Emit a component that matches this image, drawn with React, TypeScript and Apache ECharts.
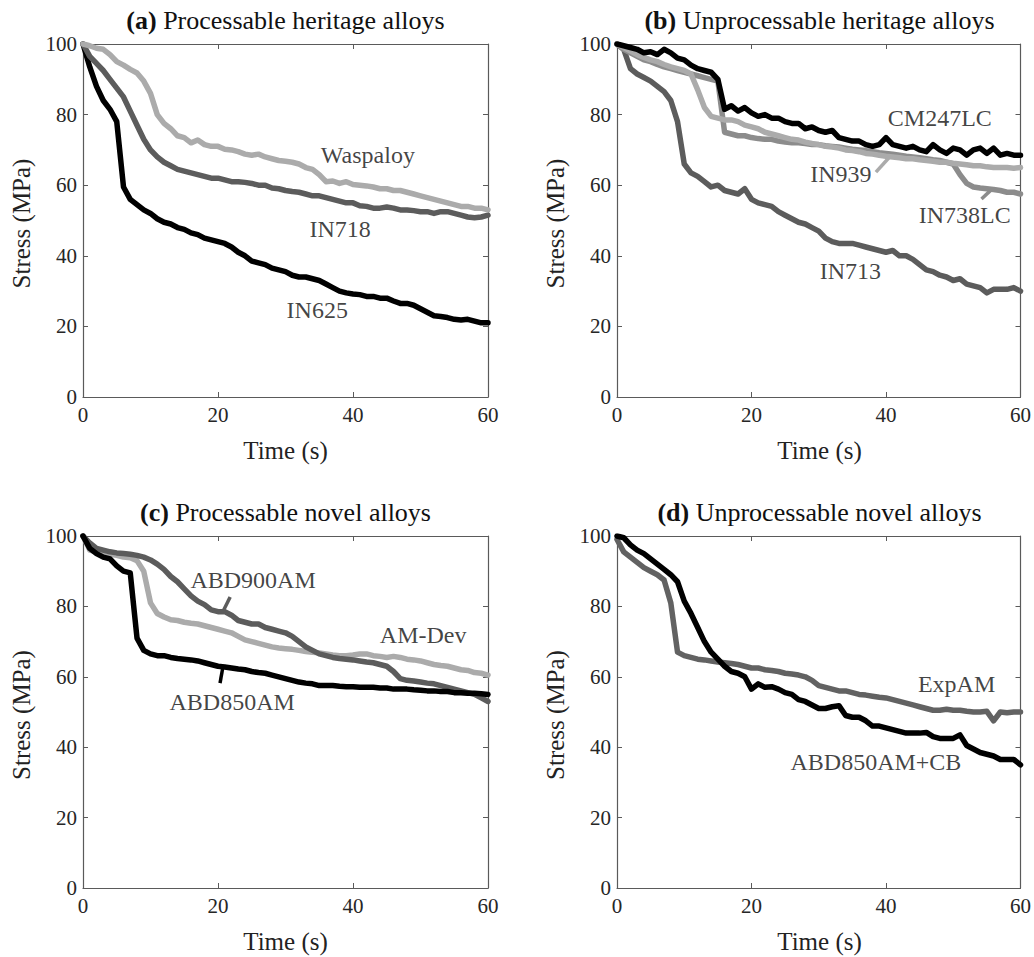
import React, { useEffect, useRef } from "react";
import * as echarts from "echarts";

// ---- sample times (s) ----
const TIME = [0,1,2,3,4,5,6,7,8,9,10,11,12,13,14,15,16,17,18,19,20,21,22,23,24,25,26,27,28,29,30,31,32,33,34,35,36,37,38,39,40,41,42,43,44,45,46,47,48,49,50,51,52,53,54,55,56,57,58,59,60];
const X_TICKS = [0, 20, 40, 60];
const Y_TICKS = [0, 20, 40, 60, 80, 100];

// ---- (a) Processable heritage alloys ----
const IN625 = [100,93.5,88,84,81.5,78,59.5,56,54.5,53,52,50.5,49.5,49,48,47.5,46.5,46,45,44.5,44,43.5,42.5,41,40,38.5,38,37.5,36.5,36,35.5,34.5,34,34,33.5,33,32,31,30,29.5,29.2,29,28.5,28.5,28,28,27.2,26.5,26.5,26,25,24,23,22.8,22.5,22,21.8,22,21.5,21,21];
const IN718 = [100,96.5,94.5,92.5,90,87.5,85,81,77,73,70,68,66.5,65.5,64.5,64,63.5,63,62.5,62,62,61.5,61,61,60.8,60.5,60,60,59.2,59,58.5,58.2,58,57.5,57,57,56.5,56,55.5,55,55,54.2,54,53.5,53.5,53.8,53.5,53,53,52.8,52.5,52.5,52,52.5,52.5,52,51.5,51,50.8,51,51.5];
const WASPALOY = [100,99.5,98.8,98.5,97,95,94,92.8,91.8,89.5,86,80,77.5,76,74,73.5,72,72.8,71.5,71,71,70.2,70,69.5,68.8,68.5,68.8,68,67.5,67,66.8,66.5,66,65,64.5,63,61,61.2,60.5,61,60.2,60,59.8,59.5,59,59,58.5,58.5,58,57.5,57,56.5,56,55.5,55,54.5,54,54,53.5,53.5,53];

// ---- (b) Unprocessable heritage alloys ----
const IN713 = [100,98.5,93,91.5,90.5,89.5,88,86.5,84,78,66,63.5,62.5,61,59.5,60,58.5,58,57.5,59,56,55,54.5,54,52.5,51.5,50.5,49.5,49,48,47,45,44,43.5,43.5,43.5,43,42.5,42,41.5,41,41.5,40,40,39,37.5,36,35.5,34.5,34,33,33.5,32,31.5,31,29.5,30.5,30.5,30.5,31,30];
const IN738LC = [100,98.5,97.5,96.5,95.5,95,94.2,93.5,93,92.5,92,91.5,91,90.5,90,89.5,75,74.5,74,74,73.5,73.2,73,73,72.5,72.2,72,72,71.8,71.5,71.5,71.2,71,70.8,70.5,70.2,70,69.8,69.5,69.2,69,68.8,68.5,68.2,68,67.8,67.5,67.2,67,66.5,66,63,60.5,59.5,59.2,59,58.8,58.5,58,58,57.5];
const IN939 = [100,99,98,97,96.2,95.5,95,94.2,93.5,93,92.5,91.5,87,82,79.5,79,78.5,78.5,78,77,76.5,76,75,74.5,74,73.5,73,72.8,72.2,71.8,71.5,71,70.8,70.5,70,69.8,69.5,69,68.8,68.5,68.2,68,67.8,67.5,67.5,67.2,67,66.8,66.5,66.5,66.2,66,65.8,65.5,65.5,65.2,65,65,65,64.8,65];
const CM247LC = [100,99.5,99,98.5,97.5,97.8,97,98.5,97.5,96,95.5,94,93,92.5,92,90,81.5,82.5,81,82,80.5,79.5,80,79,79,78,77.5,77.5,76,76.5,75.5,75,75.5,73.5,73,72.5,72.5,71.5,71,71.5,73.5,71.5,71,70.5,71,70,69.5,71.5,70,69,70.5,70,68.5,70,70.5,69,70.5,68.5,69,68.5,68.5];

// ---- (c) Processable novel alloys ----
const ABD850AM = [100,96.5,95,94,93.5,91.5,90,89.5,71,67.5,66.5,66,66,65.5,65.2,65,64.8,64.5,64,63.5,63,62.8,62.5,62.2,62,61.5,61.2,61,60.5,60,59.5,59,58.5,58.2,58,57.5,57.5,57.5,57.3,57.2,57.2,57,57,57,56.8,56.8,56.5,56.5,56.5,56.3,56.2,56,56,55.8,55.8,55.5,55.5,55.3,55.3,55.2,55];
const ABD900AM = [100,98,96.5,96,95.5,95.2,95,94.8,94.5,94,93.2,92,90.5,88.5,87,85,83,81.5,80.5,79,78.5,78.5,77.5,76,75.5,75,75,74,73.5,73,72.5,71.5,70,68.5,67.5,66.5,66,65.5,65.2,65,64.8,64.5,64.2,64,63.5,63,61.5,59.5,59,58.8,58.5,58.2,58,57.5,57,56.5,56,55.5,55,54,53];
const AMDEV = [100,96,95.5,95,94.8,94.5,94,93.8,93,90,81,78,77,76.2,76,75.5,75.2,75,74.5,74,73.5,73,72.5,71.5,70.5,70,69.5,69,68.5,68.2,68,67.8,67.5,67.2,67,66.8,66.5,66.2,66,66,66.2,66.5,66.5,66,65.8,65.5,65.8,65.5,65,64.8,64.5,64,63.5,63.2,63,62.5,62,61.8,61.2,61,60.5];

// ---- (d) Unprocessable novel alloys ----
const EXPAM = [99,95.5,94,92.5,91,90,89,87.5,81,67,66,65.5,65,64.8,64.5,64.2,64,63.8,63.5,63,62.5,62.5,62,61.8,61.5,61,60.8,60.5,60,59,57.5,57,56.5,56,56,55.5,55,54.8,54.5,54.2,54,53.5,53,52.5,52,51.5,51,50.5,50.5,50.8,50.5,50.5,50.2,50,50,50.2,47.5,50,49.8,50,50];
const ABD850AMCB = [100,99.5,97.5,96,95,93.5,92,90.5,89,87,81.5,78,74,70,67,65,63,61.5,61,60,56.5,58,57,57.2,56.5,55.5,55,53.5,53,52,51,51,51.5,51.8,49,48.5,48.5,47.5,46,46,45.5,45,44.5,44,44,44,44.2,43,42.5,42.5,42.5,43.5,40.5,39.5,38.5,38,37.5,36.5,36.5,36.5,35];

const FONT = "'Liberation Serif', 'Times New Roman', serif";
const C_BLACK = "#000000";
const C_DARK = "#5c5c5c";
const C_MID = "#8c8c8c";
const C_LIGHT = "#ababab";

type Curve = { name: string; values: number[]; color: string };
type Label = { text: string; at: [number, number] };
type Leader = { color: string; from: [number, number]; to: [number, number] };
type Panel = {
  tag: string;
  title: string;
  grid: { left: number; top: number; width: number; height: number };
  curves: Curve[];
  labels: Label[];
  leaders: Leader[];
};

const PANELS: Panel[] = [
  {
    tag: "(a)",
    title: "Processable heritage alloys",
    grid: { left: 83, top: 44, width: 405, height: 353 },
    curves: [
      { name: "IN625", values: IN625, color: C_BLACK },
      { name: "IN718", values: IN718, color: C_DARK },
      { name: "Waspaloy", values: WASPALOY, color: C_LIGHT },
    ],
    labels: [
      { text: "Waspaloy", at: [42.2, 68.6] },
      { text: "IN718", at: [38.1, 47.6] },
      { text: "IN625", at: [34.7, 24.6] },
    ],
    leaders: [],
  },
  {
    tag: "(b)",
    title: "Unprocessable heritage alloys",
    grid: { left: 617, top: 44, width: 405, height: 353 },
    curves: [
      { name: "IN713", values: IN713, color: C_DARK },
      { name: "IN738LC", values: IN738LC, color: C_MID },
      { name: "IN939", values: IN939, color: C_LIGHT },
      { name: "CM247LC", values: CM247LC, color: C_BLACK },
    ],
    labels: [
      { text: "CM247LC", at: [48.0, 79.0] },
      { text: "IN939", at: [33.3, 63.2] },
      { text: "IN738LC", at: [51.7, 51.6] },
      { text: "IN713", at: [34.7, 35.7] },
    ],
    leaders: [
      { color: C_LIGHT, from: [38.5, 63.7], to: [40.4, 67.7] },
      { color: C_MID, from: [54.2, 56.1], to: [55.6, 58.6] },
    ],
  },
  {
    tag: "(c)",
    title: "Processable novel alloys",
    grid: { left: 83, top: 536, width: 405, height: 352 },
    curves: [
      { name: "AM-Dev", values: AMDEV, color: C_LIGHT },
      { name: "ABD900AM", values: ABD900AM, color: C_DARK },
      { name: "ABD850AM", values: ABD850AM, color: C_BLACK },
    ],
    labels: [
      { text: "ABD900AM", at: [25.2, 87.5] },
      { text: "ABD850AM", at: [22.1, 52.8] },
      { text: "AM-Dev", at: [50.4, 71.9] },
    ],
    leaders: [
      { color: C_DARK, from: [21.8, 82.7], to: [20.7, 78.4] },
      { color: C_BLACK, from: [20.3, 58.2], to: [20.7, 62.5] },
    ],
  },
  {
    tag: "(d)",
    title: "Unprocessable novel alloys",
    grid: { left: 617, top: 536, width: 405, height: 352 },
    curves: [
      { name: "ExpAM", values: EXPAM, color: "#626262" },
      { name: "ABD850AM+CB", values: ABD850AMCB, color: C_BLACK },
    ],
    labels: [
      { text: "ExpAM", at: [50.5, 58.0] },
      { text: "ABD850AM+CB", at: [38.5, 35.8] },
    ],
    leaders: [],
  },
];

function buildOption() {
  const grid: any[] = [];
  const xAxis: any[] = [];
  const yAxis: any[] = [];
  const series: any[] = [];
  const graphic: any[] = [];
  const axisColor = "#5a5a5a";
  const labelColor = "#262626";

  PANELS.forEach((p, i) => {
    grid.push({ ...p.grid, containLabel: false });
    const xBase = {
      type: "value",
      gridIndex: i,
      min: X_TICKS[0],
      max: X_TICKS[X_TICKS.length - 1],
      interval: X_TICKS[1] - X_TICKS[0],
      splitLine: { show: false },
      axisLine: { show: true, onZero: false, lineStyle: { color: axisColor, width: 1.2 } },
      axisTick: { show: true, inside: true, length: 5, lineStyle: { color: axisColor, width: 1 } },
    };
    xAxis.push({
      ...xBase,
      position: "bottom",
      axisLabel: { show: true, fontFamily: FONT, fontSize: 21, color: labelColor, margin: 7 },
    });
    xAxis.push({ ...xBase, position: "top", axisLabel: { show: false } });
    const yBase = {
      type: "value",
      gridIndex: i,
      min: Y_TICKS[0],
      max: Y_TICKS[Y_TICKS.length - 1],
      interval: Y_TICKS[1] - Y_TICKS[0],
      splitLine: { show: false },
      axisLine: { show: true, onZero: false, lineStyle: { color: axisColor, width: 1.2 } },
      axisTick: { show: true, inside: true, length: 5, lineStyle: { color: axisColor, width: 1 } },
    };
    yAxis.push({
      ...yBase,
      position: "left",
      axisLabel: { show: true, fontFamily: FONT, fontSize: 21, color: labelColor, margin: 6 },
    });
    yAxis.push({ ...yBase, position: "right", axisLabel: { show: false } });

    const xi = i * 2;
    const yi = i * 2;

    p.curves.forEach((c) => {
      series.push({
        type: "line",
        name: c.name,
        xAxisIndex: xi,
        yAxisIndex: yi,
        data: TIME.map((t, k) => [t, c.values[k]]),
        showSymbol: false,
        symbol: "none",
        lineStyle: { color: c.color, width: 5.5, cap: "round", join: "round" },
        itemStyle: { color: c.color },
        silent: true,
        z: 2,
      });
    });
    p.leaders.forEach((l) => {
      series.push({
        type: "line",
        xAxisIndex: xi,
        yAxisIndex: yi,
        data: [l.from, l.to],
        showSymbol: false,
        symbol: "none",
        lineStyle: { color: l.color, width: 3.5 },
        silent: true,
        z: 3,
      });
    });
    series.push({
      type: "scatter",
      xAxisIndex: xi,
      yAxisIndex: yi,
      symbolSize: 0,
      silent: true,
      z: 4,
      data: p.labels.map((l) => ({ value: l.at, name: l.text })),
      label: {
        show: true,
        position: "inside",
        formatter: "{b}",
        fontFamily: FONT,
        fontSize: 24,
        color: "#111",
      },
    });

    const cx = p.grid.left + p.grid.width / 2;
    graphic.push({
      type: "text",
      x: cx,
      y: p.grid.top - 24,
      style: {
        text: `{b|${p.tag}} ${p.title}`,
        fontFamily: FONT,
        fontSize: 26,
        fill: "#111",
        align: "center",
        verticalAlign: "middle",
        rich: {
          b: { fontFamily: FONT, fontSize: 26, fontWeight: "bold", fill: "#111" },
        },
      },
    });
    graphic.push({
      type: "text",
      x: cx,
      y: p.grid.top + p.grid.height + 53,
      style: {
        text: "Time (s)",
        fontFamily: FONT,
        fontSize: 25,
        fill: "#222",
        align: "center",
        verticalAlign: "middle",
      },
    });
    graphic.push({
      type: "text",
      x: p.grid.left - 62,
      y: p.grid.top + p.grid.height / 2 + 3,
      rotation: Math.PI / 2,
      style: {
        text: "Stress (MPa)",
        fontFamily: FONT,
        fontSize: 25,
        fill: "#222",
        align: "center",
        verticalAlign: "middle",
      },
    });
  });

  return {
    animation: false,
    backgroundColor: "#ffffff",
    grid,
    xAxis,
    yAxis,
    series,
    graphic,
  };
}

export default function App() {
  const ref = useRef<HTMLDivElement>(null);
  useEffect(() => {
    if (!ref.current) return;
    const chart = echarts.init(ref.current, undefined, { renderer: "svg" });
    chart.setOption(buildOption() as any);
    return () => chart.dispose();
  }, []);
  return (
    <div
      ref={ref}
      style={{ position: "fixed", left: 0, top: 0, width: 1034, height: 957, background: "#fff" }}
    />
  );
}
